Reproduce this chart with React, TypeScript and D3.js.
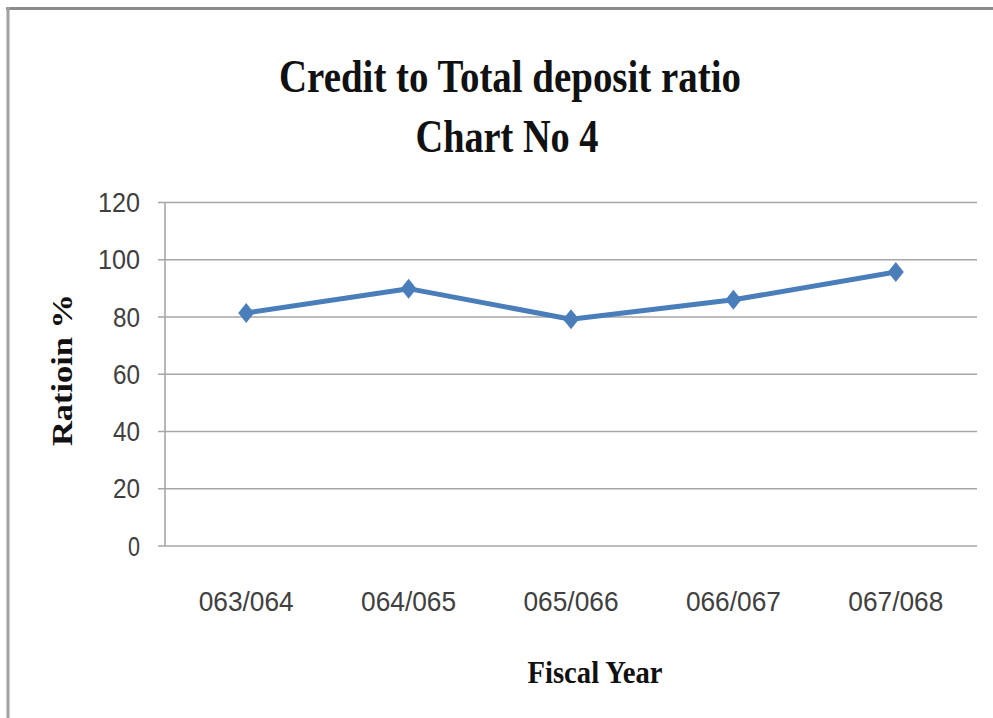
import React from "react";
import * as d3 from "d3";

const categories = ["063/064", "064/065", "065/066", "066/067", "067/068"];
const ratioValues = [81.4, 89.9, 79.2, 86.0, 95.7];
const yTicks = [0, 20, 40, 60, 80, 100, 120];
const titleLines = ["Credit to Total deposit ratio", "Chart No 4"];
const yLabel = "Ratioin %";
const xLabel = "Fiscal Year";

export default function App() {
  const W = 993, H = 718;
  const left = 165, right = 977, top = 202.5, bottom = 546;
  const x = d3.scaleBand<string>().domain(categories).range([left, right]);
  const y = d3.scaleLinear().domain([0, 120]).range([bottom, top]);
  const line = d3
    .line<number>()
    .x((_, i) => (x(categories[i]) as number) + x.bandwidth() / 2)
    .y((d) => y(d));
  const serif = "'Liberation Serif', 'Times New Roman', serif";
  const sans = "'Liberation Sans', Arial, sans-serif";
  const grid = "#a6a6a6";
  const blue = "#4a7ebb";
  return (
    <svg width={W} height={H} style={{ position: "absolute", left: 0, top: 0, background: "#fff" }}>
      <rect x={0} y={0} width={W} height={H} fill="#fff" />
      {/* frame */}
      <line x1={6} x2={W} y1={8.5} y2={8.5} stroke="#8c8c8c" strokeWidth={3} />
      <line x1={8} x2={8} y1={7} y2={H} stroke="#a0a0a0" strokeWidth={3} />
      {/* title */}
      <text x={510} y={92} textAnchor="middle" fontFamily={serif} fontWeight="bold" fontSize={46}
        textLength={462} lengthAdjust="spacingAndGlyphs" fill="#111">{titleLines[0]}</text>
      <text x={507} y={152} textAnchor="middle" fontFamily={serif} fontWeight="bold" fontSize={46}
        textLength={183} lengthAdjust="spacingAndGlyphs" fill="#111">{titleLines[1]}</text>
      {/* grid + y ticks */}
      {yTicks.map((t) => (
        <g key={t}>
          <line x1={158} x2={right} y1={y(t)} y2={y(t)} stroke={grid} strokeWidth={1.6} />
          <text x={140} y={y(t) + 9.5} textAnchor="end" fontFamily={sans} fontSize={27}
            textLength={t === 0 ? 12 : t >= 100 ? 42 : 27} lengthAdjust="spacingAndGlyphs" fill="#404040">{t}</text>
        </g>
      ))}
      <line x1={left} x2={left} y1={top} y2={bottom} stroke={grid} strokeWidth={1.6} />
      {/* x labels */}
      {categories.map((c) => (
        <text key={c} x={(x(c) as number) + x.bandwidth() / 2} y={611} textAnchor="middle"
          fontFamily={sans} fontSize={28} textLength={95} lengthAdjust="spacingAndGlyphs" fill="#404040">{c}</text>
      ))}
      {/* axis titles */}
      <text x={595} y={683} textAnchor="middle" fontFamily={serif} fontWeight="bold" fontSize={31}
        textLength={135} lengthAdjust="spacingAndGlyphs" fill="#111">{xLabel}</text>
      <text transform={`translate(72,370) rotate(-90)`} textAnchor="middle" fontFamily={serif} fontWeight="bold"
        fontSize={30} textLength={152} lengthAdjust="spacingAndGlyphs" fill="#111">{yLabel}</text>
      {/* series */}
      <path d={line(ratioValues) || ""} fill="none" stroke={blue} strokeWidth={5} strokeLinejoin="round" />
      {ratioValues.map((v, i) => {
        const cx = (x(categories[i]) as number) + x.bandwidth() / 2;
        const cy = y(v);
        return (
          <path key={i} d={`M${cx},${cy - 10}L${cx + 8},${cy}L${cx},${cy + 10}L${cx - 8},${cy}Z`} fill={blue} />
        );
      })}
    </svg>
  );
}
